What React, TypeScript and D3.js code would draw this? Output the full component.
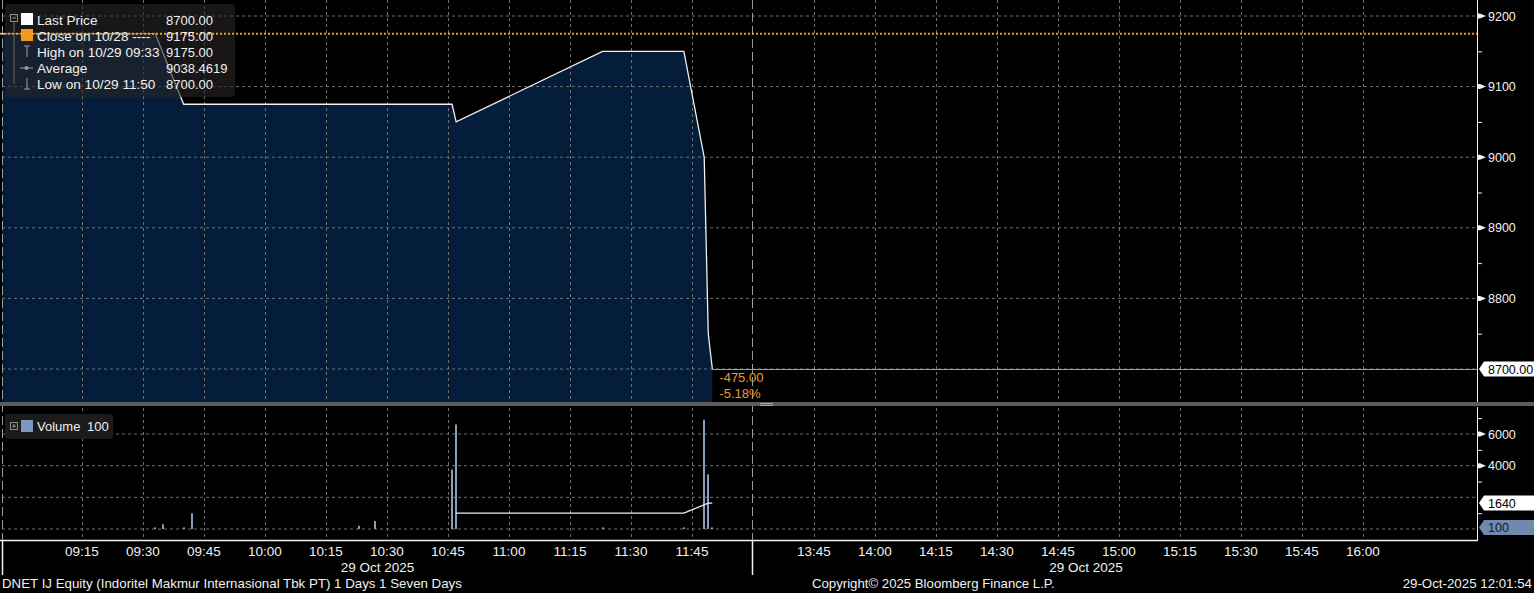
import React from "react";
import * as d3 from "d3";

// ---------- data ----------
const priceTimes = ["08:55", "09:33", "09:40", "10:46", "10:47", "11:23", "11:43", "11:48", "11:49", "11:50"];
const priceValues = [9175, 9175, 9075, 9075, 9050, 9150, 9150, 9000, 8750, 8700];

const volumeTimes = ["09:33", "09:35", "09:40", "09:42", "10:23", "10:27", "10:46", "10:47", "11:23", "11:43", "11:48", "11:49", "11:50"];
const volumeValues = [100, 300, 100, 1000, 200, 500, 3750, 6600, 100, 100, 6900, 3450, 100];

const volumeAvgTimes = ["10:47", "11:43", "11:49", "11:50"];
const volumeAvgValues = [1000, 1000, 1640, 1640];

const xTickLabels = ["09:15", "09:30", "09:45", "10:00", "10:15", "10:30", "10:45", "11:00", "11:15", "11:30", "11:45",
  "13:45", "14:00", "14:15", "14:30", "14:45", "15:00", "15:15", "15:30", "15:45", "16:00"];
const priceTicks = [8700, 8800, 8900, 9000, 9100, 9200];
const priceMinorTicks = [8750, 8850, 8950, 9050, 9150];
const volumeGridTicks = [0, 2000, 4000, 6000];
const volumeLabelTicks = [4000, 6000];
const volumeMinorTicks = [1000, 3000, 5000, 7000];

const closePrice = 9175;
const lastPrice = 8700;
const lastVolume = 100;
const volumeAvgLast = 1640;

const legendLabels = ["Last Price", "Close on 10/28 ----", "High on 10/29 09:33", "Average", "Low on 10/29 11:50"];
const legendValues = ["8700.00", "9175.00", "9175.00", "9038.4619", "8700.00"];
const changeTexts = ["-475.00", "-5.18%"];
const dateLabel = "29 Oct 2025";
const footerLeft = "DNET IJ Equity (Indoritel Makmur Internasional Tbk PT) 1 Days 1 Seven Days";
const footerMid = "Copyright\u00A9 2025 Bloomberg Finance L.P.";
const footerRight = "29-Oct-2025 12:01:54";

// ---------- layout ----------
const W = 1534, H = 593;
const plotL = 2, plotR = 1477;
const priceTop = 0, priceBottom = 402;
const volTop = 407, axisY = 540;
const breakX = 753;

const toMin = (s: string) => {
  const [h, m] = s.split(":").map(Number);
  return (h - 9) * 60 + m;
};

const x = d3.scaleLinear().domain([0, 180, 270, 420]).range([21, breakX, breakX, 1363]);
const yP = d3.scaleLinear().domain([8700, 9200]).range([369, 16]);
const yV = d3.scaleLinear().domain([0, 6000]).range([529, 434]);

const FONT = "'Liberation Sans', Arial, sans-serif";
const GRID = "#707070";
const WHITE = "#f0f0f0";
const ORANGE = "#f09a28";

export default function App() {
  const pricePts = priceTimes.map((t, i) => ({ t: toMin(t), v: priceValues[i] }));
  const area = d3.area<{ t: number; v: number }>()
    .x(d => x(d.t)).y0(priceBottom).y1(d => yP(d.v))(pricePts) || "";
  const line = d3.line<{ t: number; v: number }>()
    .x(d => x(d.t)).y(d => yP(d.v))(pricePts) || "";
  const avgPts = volumeAvgTimes.map((t, i) => ({ t: toMin(t), v: volumeAvgValues[i] }));
  const avgLine = d3.line<{ t: number; v: number }>()
    .x(d => x(d.t)).y(d => yV(d.v))(avgPts) || "";

  const lastPt = pricePts[pricePts.length - 1];
  const lastX = x(lastPt.t);
  const yLast = yP(lastPrice);

  const labelBox = (y: number) =>
    `M${plotR + 2},${y} L${plotR + 7},${y - 7.5} L${W},${y - 7.5} L${W},${y + 7.5} L${plotR + 7},${y + 7.5} Z`;
  const marker = (y: number) =>
    `M${plotR},${y - 2.5} L${plotR + 3},${y - 2.5} L${plotR + 9},${y} L${plotR + 3},${y + 2.5} L${plotR},${y + 2.5} Z`;

  const legendRowY = (i: number) => 20 + i * 16;

  return (
    <svg width={W} height={H} style={{ position: "fixed", left: 0, top: 0, display: "block" }}
      fontFamily={FONT}>
      <defs>
        <clipPath id="priceClip">
          <rect x={plotL} y={priceTop} width={plotR - plotL} height={priceBottom - priceTop} />
        </clipPath>
        <clipPath id="volClip">
          <rect x={plotL} y={volTop} width={plotR - plotL} height={axisY - volTop} />
        </clipPath>
      </defs>
      <rect x={0} y={0} width={W} height={H} fill="#000" />

      {/* price area */}
      <g clipPath="url(#priceClip)">
        <path d={area} fill="#031d3a" />
      </g>

      {/* horizontal grid price */}
      {priceTicks.map(v => (
        <line key={"pg" + v} x1={plotL} x2={plotR} y1={yP(v)} y2={yP(v)} stroke={GRID} strokeDasharray="3,3" strokeWidth={1} />
      ))}
      {/* horizontal grid volume */}
      {volumeGridTicks.map(v => (
        <line key={"vg" + v} x1={plotL} x2={plotR} y1={yV(v)} y2={yV(v)} stroke={GRID} strokeDasharray="3,3" strokeWidth={1} />
      ))}
      {/* vertical grid */}
      {xTickLabels.map(l => (
        <line key={"xg" + l} x1={Math.round(x(toMin(l))) + 0.5} x2={Math.round(x(toMin(l))) + 0.5} y1={0} y2={axisY}
          stroke={GRID} strokeDasharray="3,3" strokeWidth={1} />
      ))}
      {/* session break & left border */}
      <line x1={breakX - 0.5} x2={breakX - 0.5} y1={0} y2={axisY} stroke="#9a9a9a" strokeDasharray="9,4" />
      <line x1={plotL + 0.5} x2={plotL + 0.5} y1={0} y2={axisY} stroke="#9a9a9a" strokeDasharray="9,4" />

      {/* price line */}
      <g clipPath="url(#priceClip)">
        <path d={line} fill="none" stroke={WHITE} strokeWidth={1.3} />
      </g>

      {/* last price line */}
      <line x1={lastX} x2={plotR} y1={yLast + 0.5} y2={yLast + 0.5} stroke="#d99448" strokeWidth={1} />
      <text x={lastX + 7} y={yLast + 13} fill={ORANGE} fontSize={13}>{changeTexts[0]}</text>
      <text x={lastX + 7} y={yLast + 29} fill={ORANGE} fontSize={13}>{changeTexts[1]}</text>

      {/* legend */}
      <rect x={5} y={4} width={230} height={93} rx={4} fill="#262626" fillOpacity={0.6} />
      {/* close line (drawn over legend box) */}
      <line x1={0} x2={plotR} y1={yP(closePrice)} y2={yP(closePrice)} stroke={ORANGE} strokeWidth={2} strokeDasharray="2,2" />
      <rect x={10.5} y={14.5} width={7} height={7} fill="none" stroke="#8a8a8a" />
      <line x1={12} x2={16} y1={18} y2={18} stroke="#8a8a8a" />
      <line x1={14} x2={14} y1={22} y2={84} stroke="#6a6a6a" />
      <rect x={21} y={13} width={12} height={12} fill="#ffffff" />
      <rect x={21} y={29} width={12} height={12} fill="#f39a1a" />
      {/* high icon */}
      <line x1={27} x2={27} y1={46} y2={57} stroke="#9a9a9a" />
      <line x1={24} x2={30} y1={46} y2={46} stroke="#9a9a9a" />
      {/* avg icon */}
      <line x1={20} x2={33} y1={68} y2={68} stroke="#9a9a9a" />
      <circle cx={26.5} cy={68} r={2} fill="#9a9a9a" />
      {/* low icon */}
      <line x1={27} x2={27} y1={78} y2={89} stroke="#9a9a9a" />
      <line x1={24} x2={30} y1={89} y2={89} stroke="#9a9a9a" />
      {legendLabels.map((lab, i) => (
        <text key={"ll" + i} x={37} y={legendRowY(i) + 4.5} fill={WHITE} fontSize={13.6}>{lab}</text>
      ))}
      {legendValues.map((v, i) => (
        <text key={"lv" + i} x={166} y={legendRowY(i) + 4.5} fill={WHITE} fontSize={13}>{v}</text>
      ))}

      {/* separator */}
      <rect x={0} y={priceBottom} width={W} height={volTop - priceBottom - 1} fill="#5c5c5c" />
      <line x1={760} x2={773} y1={403.5} y2={403.5} stroke="#aaa" />
      <line x1={760} x2={773} y1={405.5} y2={405.5} stroke="#aaa" />

      {/* volume bars */}
      <g clipPath="url(#volClip)">
        {volumeTimes.map((t, i) => (
          <rect key={"vb" + i} x={Math.round(x(toMin(t))) - 1} width={2} y={yV(volumeValues[i])}
            height={yV(0) - yV(volumeValues[i])} fill="#8b9dbd" />
        ))}
        <path d={avgLine} fill="none" stroke={WHITE} strokeWidth={1.3} />
      </g>

      {/* volume legend */}
      <rect x={5} y={414} width={108} height={25} rx={3} fill="#1b1b1b" />
      <rect x={10.5} y={422.5} width={7} height={7} fill="none" stroke="#8a8a8a" />
      <line x1={12} x2={16} y1={426} y2={426} stroke="#8a8a8a" />
      <line x1={14} x2={14} y1={424} y2={428} stroke="#8a8a8a" />
      <rect x={21} y={420} width={12} height={12} fill="#7f97bf" />
      <text x={37} y={431} fill={WHITE} fontSize={13}>Volume</text>
      <text x={87} y={431} fill={WHITE} fontSize={13}>{lastVolume}</text>

      {/* axes lines */}
      <line x1={plotR + 0.5} x2={plotR + 0.5} y1={0} y2={priceBottom} stroke={WHITE} />
      <line x1={plotR + 0.5} x2={plotR + 0.5} y1={volTop} y2={axisY} stroke={WHITE} />
      <line x1={0} x2={plotR + 1} y1={axisY + 0.5} y2={axisY + 0.5} stroke={WHITE} strokeWidth={1.5} />
      <line x1={plotL + 0.5} x2={plotL + 0.5} y1={axisY} y2={575} stroke={WHITE} strokeWidth={1.5} />
      <line x1={breakX - 0.5} x2={breakX - 0.5} y1={axisY} y2={575} stroke={WHITE} strokeWidth={1.5} />

      {/* price axis */}
      {priceMinorTicks.map(v => (
        <line key={"pm" + v} x1={plotR} x2={plotR + 5} y1={yP(v) + 0.5} y2={yP(v) + 0.5} stroke={WHITE} />
      ))}
      {priceTicks.filter(v => v !== lastPrice).map(v => (
        <g key={"pt" + v}>
          <path d={marker(yP(v))} fill={WHITE} />
          <text x={1488} y={yP(v) + 4.5} fill={WHITE} fontSize={12.5}>{v}</text>
        </g>
      ))}
      <path d={labelBox(yLast)} fill="#ffffff" />
      <text x={1488} y={yLast + 4.5} fill="#000" fontSize={12.5}>{lastPrice.toFixed(2)}</text>

      {/* volume axis */}
      {volumeMinorTicks.map(v => (
        <line key={"vm" + v} x1={plotR} x2={plotR + 5} y1={yV(v) + 0.5} y2={yV(v) + 0.5} stroke={WHITE} />
      ))}
      {volumeLabelTicks.map(v => (
        <g key={"vt" + v}>
          <path d={marker(yV(v))} fill={WHITE} />
          <text x={1488} y={yV(v) + 4.5} fill={WHITE} fontSize={12.5}>{v}</text>
        </g>
      ))}
      <path d={labelBox(yV(volumeAvgLast))} fill="#ffffff" />
      <text x={1488} y={yV(volumeAvgLast) + 4.5} fill="#000" fontSize={12.5}>{volumeAvgLast}</text>
      <path d={labelBox(yV(lastVolume))} fill="#7089ad" />
      <text x={1488} y={yV(lastVolume) + 4.5} fill="#10182a" fontSize={12.5}>{lastVolume}</text>

      {/* time labels */}
      {xTickLabels.map(l => (
        <text key={"xl" + l} x={x(toMin(l))} y={556} fill={WHITE} fontSize={13.5} textAnchor="middle">{l}</text>
      ))}
      <text x={(plotL + breakX) / 2} y={572} fill={WHITE} fontSize={13.5} textAnchor="middle">{dateLabel}</text>
      <text x={1086} y={572} fill={WHITE} fontSize={13.5} textAnchor="middle">{dateLabel}</text>

      {/* footer */}
      <text x={2} y={588} fill={WHITE} fontSize={13.3}>{footerLeft}</text>
      <text x={812} y={588} fill={WHITE} fontSize={13.2}>{footerMid}</text>
      <text x={1532} y={588} fill={WHITE} fontSize={13.3} textAnchor="end">{footerRight}</text>
    </svg>
  );
}
